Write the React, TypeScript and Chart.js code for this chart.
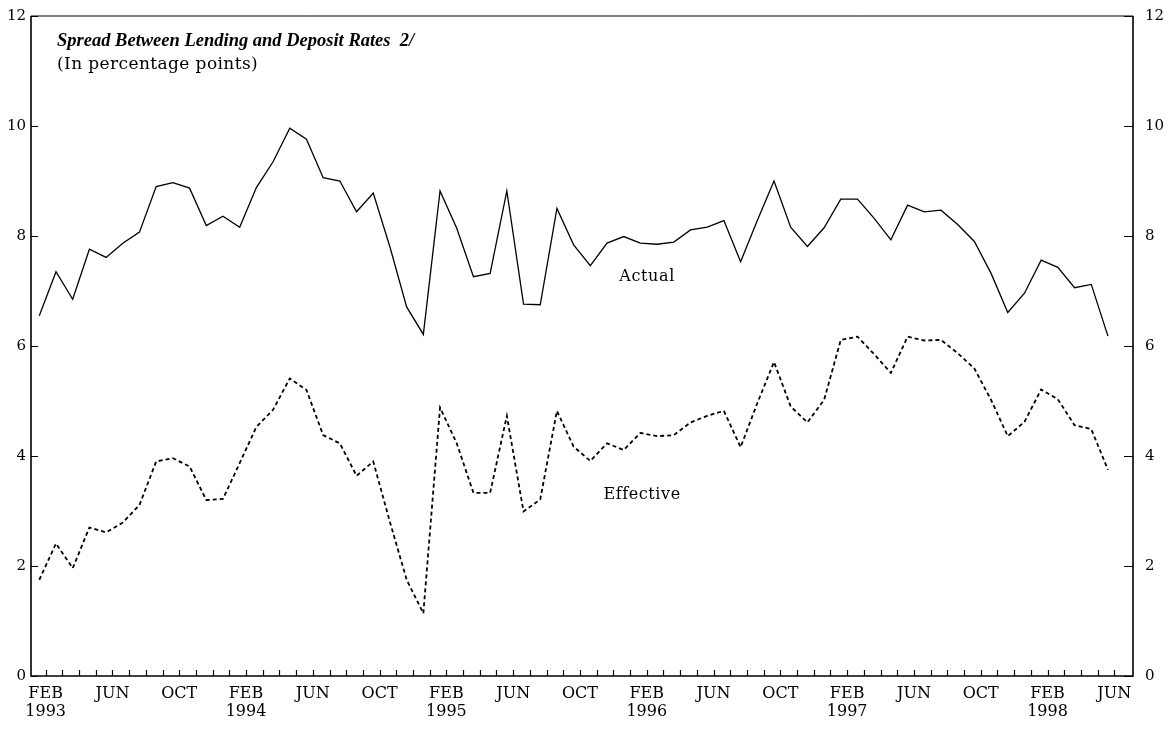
import React, { useEffect, useRef } from "react";
import { Chart, registerables } from "chart.js";

Chart.register(...registerables);

// Monthly observations, Feb 1993 .. Jun 1998 (65 months)
const actual = [
  6.55, 7.35, 6.85, 7.76, 7.61, 7.87, 8.07, 8.9, 8.97, 8.87, 8.19, 8.36,
  8.16, 8.88, 9.35, 9.96, 9.76, 9.06, 9.0, 8.44, 8.78, 7.8, 6.71, 6.21,
  8.82, 8.14, 7.26, 7.32, 8.82, 6.76, 6.75, 8.5, 7.84, 7.46, 7.87, 7.99,
  7.87, 7.85, 7.89, 8.11, 8.16, 8.28, 7.53, 8.28, 9.0, 8.16, 7.81, 8.15,
  8.67, 8.67, 8.32, 7.93, 8.56, 8.44, 8.47, 8.21, 7.9, 7.32, 6.61, 6.96,
  7.56, 7.43, 7.06, 7.12, 6.18,
];

const effective = [
  1.75, 2.41, 1.96, 2.7, 2.61, 2.79, 3.11, 3.9, 3.96, 3.81, 3.2, 3.22,
  3.87, 4.53, 4.84, 5.41, 5.2, 4.38, 4.23, 3.64, 3.9, 2.8, 1.75, 1.14,
  4.88, 4.23, 3.33, 3.33, 4.73, 2.99, 3.21, 4.82, 4.17, 3.91, 4.23, 4.11,
  4.42, 4.36, 4.38, 4.61, 4.73, 4.82, 4.16, 4.96, 5.71, 4.9, 4.61, 5.02,
  6.11, 6.17, 5.85, 5.51, 6.17, 6.1, 6.11, 5.87, 5.59, 5.02, 4.36, 4.62,
  5.21, 5.03, 4.56, 4.49, 3.75,
];

// Category labels shown every four months
const tickLabels: string[][] = [
  ["FEB", "1993"], ["JUN"], ["OCT"],
  ["FEB", "1994"], ["JUN"], ["OCT"],
  ["FEB", "1995"], ["JUN"], ["OCT"],
  ["FEB", "1996"], ["JUN"], ["OCT"],
  ["FEB", "1997"], ["JUN"], ["OCT"],
  ["FEB", "1998"], ["JUN"],
];
const yTicks = [0, 2, 4, 6, 8, 10, 12];

const TITLE = "Spread Between Lending and Deposit Rates  2/";
const SUBTITLE = "(In percentage points)";
const seriesNames = ["Actual", "Effective"];

// layout / style constants
const TICK_OFFSET = 0.38;
const LABEL_POS = [
  { x: 36.4, y: 7.25 },
  { x: 36.1, y: 3.3 },
];
const SERIF = "'DejaVu Serif', serif";

const decorPlugin = {
  id: "decor",
  beforeDatasetsDraw(chart: any) {
    const { ctx, chartArea: a, scales } = chart;
    const x = scales.x;
    const y = scales.y;
    ctx.save();
    ctx.strokeStyle = "#000";
    // frame
    ctx.lineWidth = 1;
    ctx.beginPath();
    ctx.moveTo(a.left, a.top);
    ctx.lineTo(a.right, a.top);
    ctx.stroke();
    ctx.lineWidth = 1.6;
    ctx.beginPath();
    ctx.moveTo(a.left, a.top);
    ctx.lineTo(a.left, a.bottom);
    ctx.lineTo(a.right, a.bottom);
    ctx.lineTo(a.right, a.top);
    ctx.stroke();
    // y ticks, inward
    ctx.lineWidth = 1;
    for (const v of yTicks) {
      const py = Math.round(y.getPixelForValue(v)) + 0.5;
      ctx.beginPath();
      ctx.moveTo(a.left, py);
      ctx.lineTo(a.left + 7, py);
      ctx.moveTo(a.right, py);
      ctx.lineTo(a.right - 9, py);
      ctx.stroke();
    }
    // month ticks, inward
    ctx.lineWidth = 1.2;
    for (let i = 0; i < actual.length; i++) {
      const px = Math.round(x.getPixelForValue(i + TICK_OFFSET)) + 0.5;
      ctx.beginPath();
      ctx.moveTo(px, a.bottom);
      ctx.lineTo(px, a.bottom - 6);
      ctx.stroke();
    }
    ctx.restore();
  },
  afterDraw(chart: any) {
    const { ctx, chartArea: a, scales } = chart;
    ctx.save();
    ctx.fillStyle = "#000";
    ctx.textAlign = "left";
    ctx.textBaseline = "alphabetic";
    ctx.font = "bold italic 18.5px 'Liberation Serif', serif";
    ctx.fillText(TITLE, a.left + 26, 46);
    ctx.font = `17px ${SERIF}`;
    (ctx as any).letterSpacing = "0.4px";
    ctx.fillText(SUBTITLE, a.left + 26, 69);
    (ctx as any).letterSpacing = "0.6px";
    ctx.textAlign = "center";
    ctx.textBaseline = "middle";
    ctx.font = `16px ${SERIF}`;
    seriesNames.forEach((n, k) => {
      ctx.fillText(
        n,
        scales.x.getPixelForValue(LABEL_POS[k].x),
        scales.y.getPixelForValue(LABEL_POS[k].y)
      );
    });
    ctx.restore();
  },
};

export default function App() {
  const ref = useRef<HTMLCanvasElement>(null);
  useEffect(() => {
    const canvas = ref.current!;
    const tickFont = { family: SERIF, size: 15, lineHeight: 0.5 };
    const chart = new Chart(canvas, {
      type: "line",
      data: {
        datasets: [
          {
            label: seriesNames[0],
            data: actual.map((v, i) => ({ x: i, y: v })),
            borderColor: "#000",
            borderWidth: 1.3,
            pointRadius: 0,
            tension: 0,
            fill: false,
          },
          {
            label: seriesNames[1],
            data: effective.map((v, i) => ({ x: i, y: v })),
            borderColor: "#000",
            borderWidth: 1.8,
            borderDash: [4, 3],
            pointRadius: 0,
            tension: 0,
            fill: false,
          },
        ],
      },
      options: {
        responsive: false,
        animation: false,
        devicePixelRatio: 1,
        layout: { padding: { top: 16, left: 0, right: 0, bottom: 0 } },
        plugins: {
          legend: { display: false },
          tooltip: { enabled: false },
          title: { display: false },
        },
        scales: {
          x: {
            type: "linear",
            min: -0.497,
            max: 65.5,
            grid: { display: false, drawTicks: false },
            border: { display: false },
            afterBuildTicks: (scale: any) => {
              scale.ticks = tickLabels.map((_, k) => ({ value: k * 4 + TICK_OFFSET }));
            },
            afterFit: (scale: any) => {
              scale.height = 53;
            },
            ticks: {
              autoSkip: false,
              maxRotation: 0,
              minRotation: 0,
              padding: 9,
              color: "#000",
              font: { family: SERIF, size: 16, lineHeight: 1.1 },
              callback: (value: any) => {
                const k = Math.round((Number(value) - TICK_OFFSET) / 4);
                return tickLabels[k] ?? "";
              },
            },
          },
          y: {
            type: "linear",
            position: "left",
            min: 0,
            max: 12,
            grid: { display: false, drawTicks: false },
            border: { display: false },
            afterBuildTicks: (scale: any) => {
              scale.ticks = yTicks.map((v) => ({ value: v }));
            },
            afterFit: (scale: any) => {
              scale.width = 31;
            },
            ticks: { padding: 5, color: "#000", font: tickFont },
          },
          y2: {
            type: "linear",
            position: "right",
            min: 0,
            max: 12,
            grid: { display: false, drawTicks: false },
            border: { display: false },
            afterBuildTicks: (scale: any) => {
              scale.ticks = yTicks.map((v) => ({ value: v }));
            },
            afterFit: (scale: any) => {
              scale.width = 37;
            },
            ticks: { padding: 12, color: "#000", font: tickFont },
          },
        },
      },
      plugins: [decorPlugin],
    });
    return () => chart.destroy();
  }, []);

  return (
    <div
      style={{
        position: "fixed",
        left: 0,
        top: 0,
        width: 1170,
        height: 729,
        background: "#fff",
      }}
    >
      <canvas ref={ref} width={1170} height={729} />
    </div>
  );
}
